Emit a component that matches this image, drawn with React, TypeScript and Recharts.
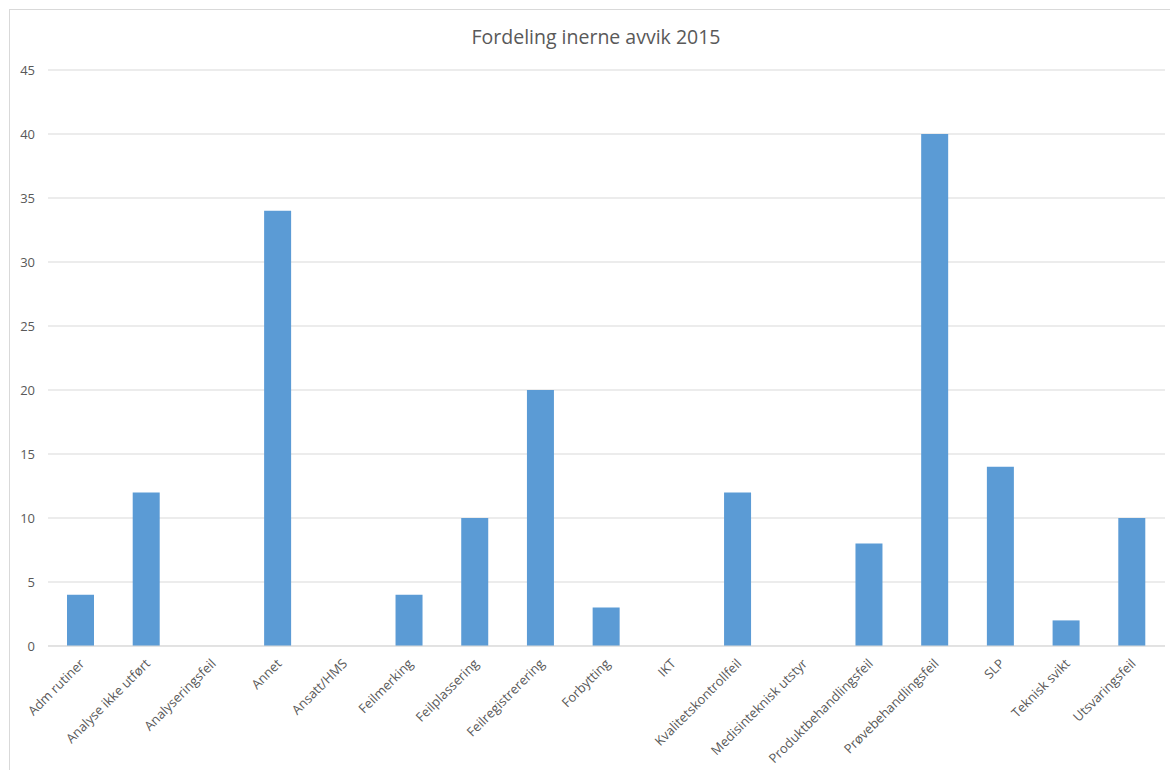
import { Bar, BarChart, CartesianGrid, XAxis, YAxis } from 'recharts';

const categories = [
  'Adm rutiner',
  'Analyse ikke utført',
  'Analyseringsfeil',
  'Annet',
  'Ansatt/HMS',
  'Feilmerking',
  'Feilplassering',
  'Feilregistrerering',
  'Forbytting',
  'IKT',
  'Kvalitetskontrollfeil',
  'Medisinteknisk utstyr',
  'Produktbehandlingsfeil',
  'Prøvebehandlingsfeil',
  'SLP',
  'Teknisk svikt',
  'Utsvaringsfeil',
];

const counts = [4, 12, 0, 34, 0, 4, 10, 20, 3, 0, 12, 0, 8, 40, 14, 2, 10];

const yTicks = [0, 5, 10, 15, 20, 25, 30, 35, 40, 45];

const title = 'Fordeling inerne avvik 2015';

const FONT = '"Open Sans", "Liberation Sans", sans-serif';
const TEXT_COLOR = '#595959';

const chartData = categories.map((name, i) => ({ name, value: counts[i] }));

// rotated category labels, ending just under the tick
function CategoryTick(props: any) {
  const { x, y, payload } = props;
  return (
    <g transform={`translate(${x + 2},${y + 8})`}>
      <text
        transform="rotate(-45)"
        textAnchor="end"
        dominantBaseline="middle"
        fill={TEXT_COLOR}
        fontSize={13}
        fontFamily={FONT}
      >
        {payload.value}
      </text>
    </g>
  );
}

export default function App() {
  return (
    <div style={{ position: 'absolute', left: 0, top: 0, width: 1170, height: 770, background: '#fff', overflow: 'hidden' }}>
      {/* outer chart frame, only top/left visible in the crop */}
      <div
        style={{
          position: 'absolute',
          left: 9,
          top: 9,
          width: 1200,
          height: 800,
          borderTop: '1px solid #d9d9d9',
          borderLeft: '1px solid #d9d9d9',
        }}
      />
      <div
        style={{
          position: 'absolute',
          left: 0,
          width: 1192,
          top: 23,
          textAlign: 'center',
          fontFamily: FONT,
          fontSize: 19.5,
          color: TEXT_COLOR,
        }}
      >
        {title}
      </div>
      <div style={{ position: 'absolute', left: 0, top: 0 }}>
        <BarChart
          width={1170}
          height={770}
          data={chartData}
          margin={{ top: 70, right: 5, left: 0, bottom: 24 }}
        >
          <CartesianGrid vertical={false} stroke="#d9d9d9" />
          <XAxis
            dataKey="name"
            interval={0}
            height={100}
            tickLine={false}
            axisLine={{ stroke: '#d9d9d9' }}
            tick={<CategoryTick />}
          />
          <YAxis
            width={48}
            domain={[0, 45]}
            ticks={yTicks}
            interval={0}
            tickLine={false}
            axisLine={false}
            tickSize={6}
            tickMargin={7}
            tick={{ fill: TEXT_COLOR, fontSize: 13, fontFamily: FONT }}
          />
          <Bar dataKey="value" fill="#5b9bd5" barSize={27} isAnimationActive={false} />
        </BarChart>
      </div>
    </div>
  );
}
